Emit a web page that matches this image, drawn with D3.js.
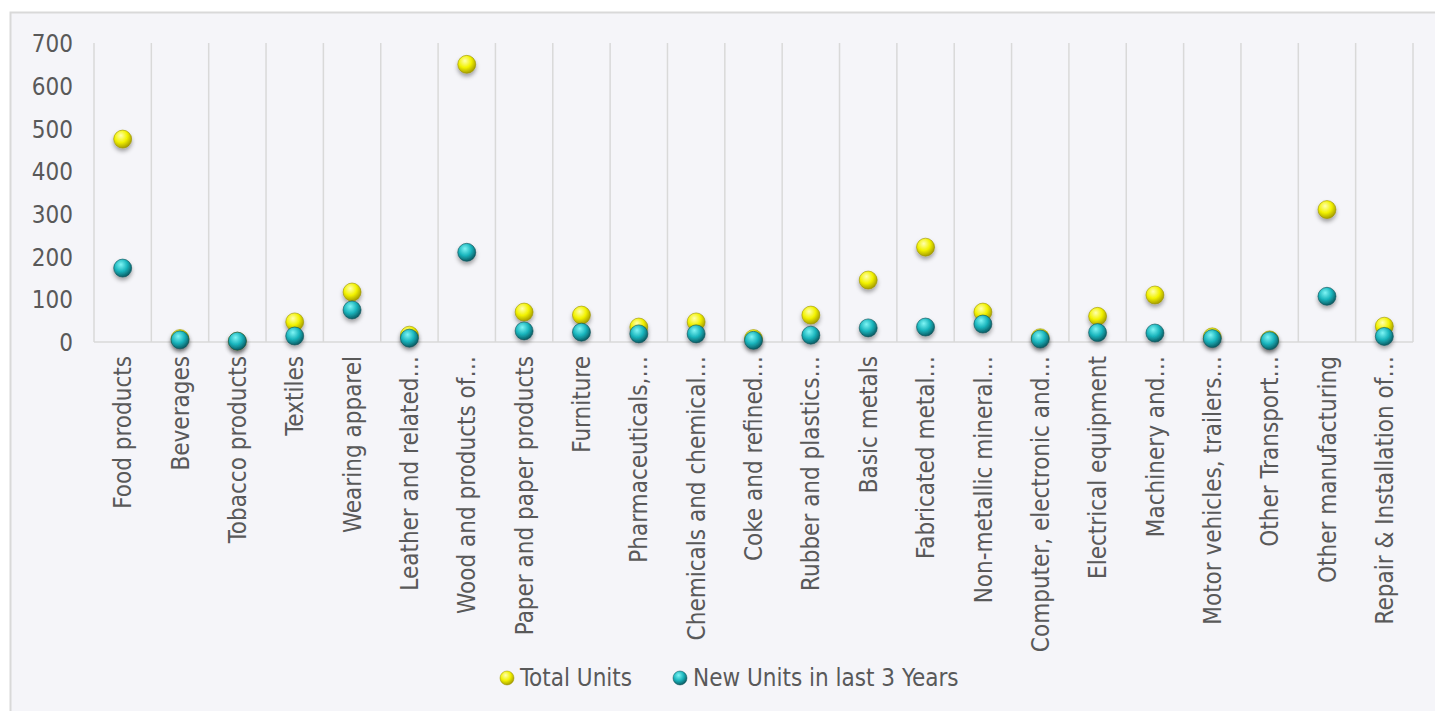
<!DOCTYPE html>
<html><head><meta charset="utf-8">
<script src="https://cdn.jsdelivr.net/npm/d3@7"></script>
<style>
body{margin:0;background:#fff;overflow:hidden;}
svg text{font-family:"DejaVu Sans Condensed","DejaVu Sans",sans-serif;font-stretch:condensed;fill:#595959;}
</style></head><body>
<svg id="c" width="1435" height="711"></svg>
<script>
const categories = ["Food products","Beverages","Tobacco products","Textiles","Wearing apparel","Leather and related…","Wood and products of…","Paper and paper products","Furniture","Pharmaceuticals,…","Chemicals and chemical…","Coke and refined…","Rubber and plastics…","Basic metals","Fabricated metal…","Non-metallic mineral…","Computer, electronic and…","Electrical equipment","Machinery and…","Motor vehicles, trailers…","Other Transport…","Other manufacturing","Repair & Installation of…"];
const totalUnits = [475,8,2,47,117,16,650,70,63,35,47,8,63,145,222,70,10,60,110,12,5,310,37];
const newUnits = [173,5,2,14,75,9,210,26,23,19,19,4,16,33,35,42,7,22,21,8,3,107,13];
const yTicks = [0,100,200,300,400,500,600,700];
const seriesNames = ["Total Units","New Units in last 3 Years"];

const svg = d3.select("#c");
svg.append("rect").attr("x",10.5).attr("y",12.5).attr("width",1440).attr("height",720)
  .attr("fill","#f5f5f9").attr("stroke","#d9d9d9").attr("stroke-width",2);

const defs = svg.append("defs");
function grad(id,c0,c1,c2){
  const g=defs.append("radialGradient").attr("id",id).attr("cx","40%").attr("cy","35%").attr("r","65%").attr("fx","40%").attr("fy","30%");
  g.append("stop").attr("offset","0%").attr("stop-color",c0);
  g.append("stop").attr("offset","55%").attr("stop-color",c1);
  g.append("stop").attr("offset","100%").attr("stop-color",c2);
}
grad("gy","#ffffb0","#f2f200","#a8a000");
grad("gt","#7ff5f5","#1ab5bd","#0b5e66");
const f=defs.append("filter").attr("id","sh").attr("x","-50%").attr("y","-50%").attr("width","200%").attr("height","220%");
f.append("feDropShadow").attr("dx",0).attr("dy",3).attr("stdDeviation",2.2).attr("flood-color","#000").attr("flood-opacity",0.35);

const x = d3.scaleBand().domain(categories).range([94,1413]).padding(0);
const y = d3.scaleLinear().domain([0,700]).range([342,43]);

const bounds = categories.map(c=>x(c)).concat([x.range()[1]]);
svg.append("g").selectAll("line").data(bounds).join("line")
  .attr("x1",d=>d).attr("x2",d=>d).attr("y1",y(700)).attr("y2",y(0))
  .attr("stroke","#d9d9d9").attr("stroke-width",1.5);
svg.append("line").attr("x1",94).attr("x2",1413).attr("y1",y(0)).attr("y2",y(0))
  .attr("stroke","#d9d9d9").attr("stroke-width",1.5);

const ya = svg.append("g").attr("transform","translate(73,0)")
  .call(d3.axisLeft(y).tickValues(yTicks).tickSize(0).tickPadding(0));
ya.select(".domain").remove();
ya.selectAll("text").attr("font-size",24).attr("font-family",null).style("fill","#595959").attr("dy","0.36em");

svg.append("g").selectAll("text").data(categories).join("text")
  .attr("transform",d=>`translate(${x(d)+x.bandwidth()/2},356) rotate(-90)`)
  .attr("text-anchor","end").attr("dy","0.36em").attr("font-size",24).text(d=>d);

const g = svg.append("g");
g.selectAll("circle.t").data(totalUnits).join("circle").attr("class","t")
  .attr("cx",(d,i)=>x(categories[i])+x.bandwidth()/2).attr("cy",d=>y(d)).attr("r",9)
  .attr("fill","url(#gy)").attr("stroke","#9a9200").attr("stroke-width",0.6).attr("filter","url(#sh)");
g.selectAll("circle.n").data(newUnits).join("circle").attr("class","n")
  .attr("cx",(d,i)=>x(categories[i])+x.bandwidth()/2).attr("cy",d=>y(d)).attr("r",9)
  .attr("fill","url(#gt)").attr("stroke","#0a4f55").attr("stroke-width",0.6).attr("filter","url(#sh)");

const leg = svg.append("g");
const lx=[507,680], fills=["url(#gy)","url(#gt)"];
seriesNames.forEach((s,i)=>{
  leg.append("circle").attr("cx",lx[i]).attr("cy",678).attr("r",7).attr("fill",fills[i]).attr("stroke",i?"#0a4f55":"#9a9200").attr("stroke-width",0.5);
  leg.append("text").attr("x",lx[i]+13).attr("y",686).attr("font-size",24).text(s);
});
</script></body></html>
